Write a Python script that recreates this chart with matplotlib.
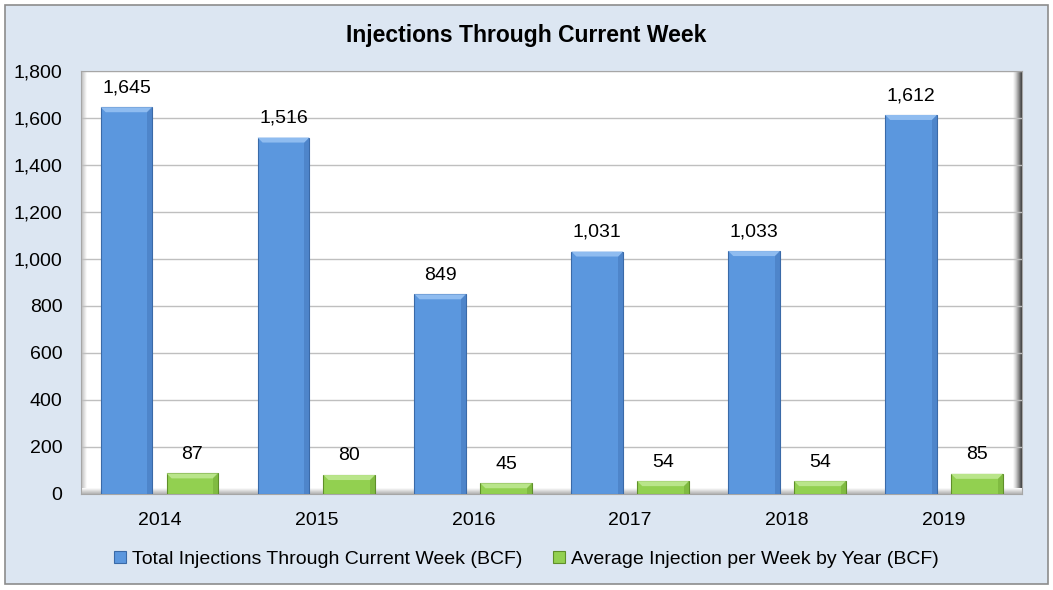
import numpy as np
import matplotlib.pyplot as plt
from matplotlib.patches import Rectangle, Polygon
from matplotlib.colors import LinearSegmentedColormap

plt.rcParams['font.family'] = ['Liberation Sans', 'DejaVu Sans']

years = ['2014', '2015', '2016', '2017', '2018', '2019']
total_inj = [1645, 1516, 849, 1031, 1033, 1612]
avg_inj = [87, 80, 45, 54, 54, 85]

label_total = 'Total Injections Through Current Week (BCF)'
label_avg = 'Average Injection per Week by Year (BCF)'

blue = '#5b97de'
blue_edge = '#3a6aa8'
green = '#92d050'
green_edge = '#5f8f2a'
bg = '#dce6f2'

fig = plt.figure(figsize=(10.53, 5.9), dpi=100)
fig.patch.set_facecolor('white')
# outer chart frame
fig.patches.append(Rectangle((0.005, 0.01), 0.99, 0.982, transform=fig.transFigure,
                             facecolor=bg, edgecolor='#8c8c8c', linewidth=1.2, zorder=-10))

ax_pos = [0.077, 0.163, 0.894, 0.717]
ax = fig.add_axes(ax_pos)
ax.set_facecolor('white')
ax_w = ax_pos[2] * 1053
ax_h = ax_pos[3] * 590

x = np.arange(len(years))
w = 0.33
b1 = ax.bar(x - 0.21, total_inj, w, color=blue, edgecolor=blue_edge, linewidth=0.8, label=label_total, zorder=3)
b2 = ax.bar(x + 0.21, avg_inj, w, color=green, edgecolor=green_edge, linewidth=0.8, label=label_avg, zorder=3)

ax.set_xlim(-0.5, len(years) - 0.5)
ax.set_ylim(0, 1800)

# bevel look on the bars
bev = 5
dx = bev / ax_w * len(years)
dy = bev / ax_h * 1800
for bars, light, dark in ((b1, '#8fbcf0', '#4679bd'), (b2, '#b9e58a', '#74ad38')):
    for r in bars:
        x0, x1, h = r.get_x(), r.get_x() + r.get_width(), r.get_height()
        ax.add_patch(Polygon([(x0, h), (x1, h), (x1 - dx, h - dy), (x0 + dx, h - dy)],
                             closed=True, facecolor=light, edgecolor='none', zorder=4))
        ax.add_patch(Polygon([(x1, h), (x1, 0), (x1 - dx, 0), (x1 - dx, h - dy)],
                             closed=True, facecolor=dark, edgecolor='none', zorder=4, alpha=0.6))

for bars, vals in ((b1, total_inj), (b2, avg_inj)):
    for r, v in zip(bars, vals):
        ax.text(r.get_x() + r.get_width() / 2, v + 45, f'{v:,}', ha='center', va='bottom', fontsize=14)

# soft shadow edges of the plot area (walls / floor)
grad = np.linspace(0, 1, 64)
right_cm = LinearSegmentedColormap.from_list('rw', ['#ffffff', '#d0d0d0', '#8a8a8a', '#3a3a3a'])
left_cm = LinearSegmentedColormap.from_list('lw', ['#b8b8b8', '#ffffff'])
floor_cm = LinearSegmentedColormap.from_list('fl', ['#ffffff', '#b0b0b0'])
rw = 9 / ax_w
lw = 6 / ax_w
fh = 6 / ax_h
ax.imshow(grad[None, :], cmap=right_cm, extent=(1 - rw, 1, 0, 1), transform=ax.transAxes,
          aspect='auto', zorder=1.5)
ax.imshow(grad[None, :], cmap=left_cm, extent=(0, lw, 0, 1), transform=ax.transAxes,
          aspect='auto', zorder=1.5)
ax.imshow(grad[:, None], cmap=floor_cm, extent=(0, 1, 0, fh), transform=ax.transAxes,
          aspect='auto', zorder=1.5, origin='upper')
ax.set_xlim(-0.5, len(years) - 0.5)
ax.set_ylim(0, 1800)

ax.set_yticks(range(0, 1801, 200))
ax.set_yticklabels([f'{t:,}' for t in range(0, 1801, 200)])
ax.set_xticks(x)
ax.set_xticklabels(years)
ax.tick_params(axis='x', length=0, labelsize=14, pad=13)
ax.tick_params(axis='y', length=0, labelsize=14, pad=13.5)
ax.grid(axis='y', color='#bfbfbf', linewidth=1, zorder=0)
for s in ax.spines.values():
    s.set_color('#a6a6a6')
    s.set_linewidth(0.8)

fig.text(0.5, 0.94, 'Injections Through Current Week', ha='center', va='center',
         fontsize=16.5, fontweight='bold')

leg = fig.legend(handles=[b1, b2], loc='center', bbox_to_anchor=(0.5, 0.052), ncol=2,
                 frameon=False, fontsize=14, handlelength=0.6, handleheight=0.6,
                 handletextpad=0.3, columnspacing=1.6)

fig.savefig('out.png', dpi=100, facecolor=fig.get_facecolor())
